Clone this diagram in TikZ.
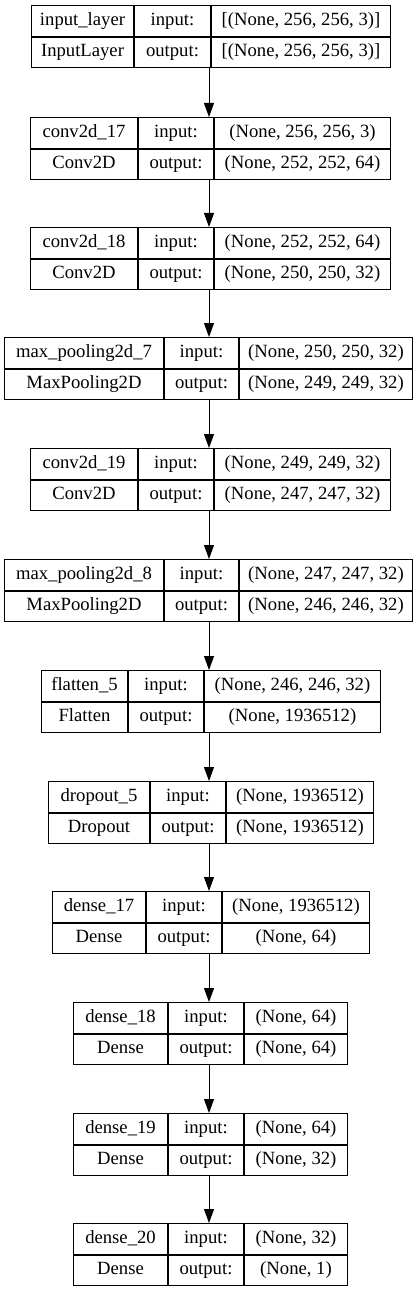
\documentclass[tikz,border=0pt]{standalone}
\usepackage{fontspec}
\setmainfont{Liberation Serif}
\usetikzlibrary{arrows.meta}
\usetikzlibrary{positioning}

\begin{document}
\begin{tikzpicture}[x=0.75pt,y=-0.75pt,>={Triangle[length=10.5pt,width=7.5pt]},
			cell/.style={draw=black,
				rectangle,
				line width=0.75pt,
				inner sep=0pt,
				anchor=north west,
				minimum height=23pt,
				text height=9.5pt,
				text depth=3pt,
				font=\fontsize{14}{16}\selectfont},
			arr/.style={->,line width=0.75pt}]
			\useasboundingbox (0,0) rectangle (419,1291);
			\coordinate (axis) at (209,0);
			% one layer = two rows of three cells
			\foreach \i/\y/\xa/\xb/\xc/\xd/\lname/\ltype/\inp/\outp in {
				1/5/31/133/209/388/input\_layer/InputLayer/{[(None, 256, 256, 3)]}/{[(None, 256, 256, 3)]},
				2/117/30/137/212/388/conv2d\_17/Conv2D/{(None, 256, 256, 3)}/{(None, 252, 252, 64)},
				3/227/30/137/212/388/conv2d\_18/Conv2D/{(None, 252, 252, 64)}/{(None, 250, 250, 32)},
				4/337/4/163/237/410/max\_pooling2d\_7/MaxPooling2D/{(None, 250, 250, 32)}/{(None, 249, 249, 32)},
				5/448/30/137/212/388/conv2d\_19/Conv2D/{(None, 249, 249, 32)}/{(None, 247, 247, 32)},
				6/559/4/163/237/410/max\_pooling2d\_8/MaxPooling2D/{(None, 247, 247, 32)}/{(None, 246, 246, 32)},
				7/670/41/127/202/378/flatten\_5/Flatten/{(None, 246, 246, 32)}/{(None, 1936512)},
				8/781/48/149/224/371/dropout\_5/Dropout/{(None, 1936512)}/{(None, 1936512)},
				9/891/52/145/220/367/dense\_17/Dense/{(None, 1936512)}/{(None, 64)},
				10/1002/73/167/242/345/dense\_18/Dense/{(None, 64)}/{(None, 64)},
				11/1113/73/167/242/345/dense\_19/Dense/{(None, 64)}/{(None, 32)},
				12/1223/73/167/242/345/dense\_20/Dense/{(None, 32)}/{(None, 1)}}{
				\node[cell,minimum width={(\xb-\xa)*0.75pt}] (l\i-name) at (\xa,\y) {\lname};
				\node[cell,minimum width={(\xc-\xb)*0.75pt},right=0pt of l\i-name] (l\i-in) {input:};
				\node[cell,minimum width={(\xd-\xc)*0.75pt},right=0pt of l\i-in] (l\i-inval) {\inp};
				\node[cell,minimum width={(\xb-\xa)*0.75pt},below=0pt of l\i-name] (l\i-type) {\ltype};
				\node[cell,minimum width={(\xc-\xb)*0.75pt},below=0pt of l\i-in] (l\i-out) {output:};
				\node[cell,minimum width={(\xd-\xc)*0.75pt},below=0pt of l\i-inval] (l\i-outval) {\outp};
			}
			\foreach \i [count=\j from 2] in {1,...,11}
				\draw[arr] (l\i-type.south -| axis)--(l\j-name.north -| axis);
		\end{tikzpicture}
\end{document}
